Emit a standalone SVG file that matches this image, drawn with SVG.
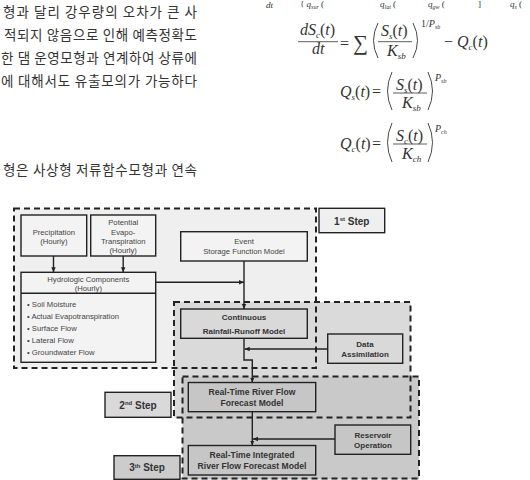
<svg xmlns="http://www.w3.org/2000/svg" width="530" height="480" viewBox="0 0 530 480">
<style>
.kr{font-family:"Noto Sans CJK KR","Noto Sans",sans-serif;font-size:13.5px;fill:#333}
.m{font-family:"Liberation Serif",serif;font-size:16px;fill:#333;font-style:italic}
.mt{font-size:9px}
.mu{font-style:normal}
.sb{font-size:9px}
.sb2{font-size:6px}
.sp{font-size:10px}
.bar{stroke:#333;stroke-width:0.8}
.par{fill:none;stroke:#333;stroke-width:0.9}
.zone{stroke:#222;stroke-width:2;stroke-dasharray:6,4;fill:none}
.box{stroke:#222;stroke-width:1.4}
.b1{fill:#f3f3f3}
.b2{fill:#d9d9d9}
.b3{fill:#c6c6c6}
.t{font-family:"Liberation Sans",Arial,sans-serif;font-size:7.7px;fill:#444;text-anchor:middle}
.tb{font-family:"Liberation Sans",Arial,sans-serif;font-size:8px;font-weight:bold;fill:#333;text-anchor:middle}
.tr{font-size:8.6px}
.ts{font-family:"Liberation Sans",Arial,sans-serif;font-size:10px;font-weight:bold;fill:#333;text-anchor:middle}
.l{font-family:"Liberation Sans",Arial,sans-serif;font-size:7.7px;fill:#444}
.c{stroke:#222;stroke-width:1.4;fill:none;marker-end:url(#ah)}
</style>
<defs>
<marker id="ah" markerWidth="6" markerHeight="6" refX="5" refY="3" orient="auto" markerUnits="userSpaceOnUse">
<path d="M0,0.8 L5,3 L0,5.2 Z" fill="#222"/>
</marker>
</defs>
<rect width="530" height="480" fill="#ffffff"/>

<!-- Korean body text -->
<g id="korean-text">
<text class="kr" x="3" y="17" textLength="194" lengthAdjust="spacing">형과 달리 강우량의 오차가 큰 사</text>
<text class="kr" x="4" y="40" textLength="193" lengthAdjust="spacing">적되지 않음으로 인해 예측정확도</text>
<text class="kr" x="1" y="63" textLength="196" lengthAdjust="spacing">한 댐 운영모형과 연계하여 상류에</text>
<text class="kr" x="1" y="86" textLength="196" lengthAdjust="spacing">에 대해서도 유출모의가 가능하다</text>
<text class="kr" x="3" y="175" textLength="194" lengthAdjust="spacing">형은 사상형 저류함수모형과 연속</text>
</g>

<!-- Equations -->
<g id="equations">
<!-- top line (partly shown in the reference) -->
<text class="m mt" x="266" y="8">dt</text>
<text class="m mt" x="300" y="7"><tspan class="mu">{</tspan> q<tspan class="sb2" dy="2">sur</tspan><tspan class="mu" dy="-2"> (</tspan></text>
<text class="m mt" x="380" y="7">q<tspan class="sb2" dy="2">lat</tspan><tspan class="mu" dy="-2"> (</tspan></text>
<text class="m mt" x="428" y="7">q<tspan class="sb2" dy="2">gw</tspan><tspan class="mu" dy="-2"> (</tspan></text>
<text class="m mt" x="478" y="7"><tspan class="mu">]</tspan></text>
<text class="m mt" x="510" y="7">q<tspan class="sb2" dy="2">s</tspan><tspan class="mu" dy="-2"> (</tspan></text>

<!-- eq 1 -->
<text class="m" x="300" y="35">dS<tspan class="sb" dy="3">c</tspan><tspan class="mu" dy="-3">(</tspan>t<tspan class="mu">)</tspan></text>
<line class="bar" x1="298" y1="41.7" x2="338" y2="41.7"/>
<text class="m" x="312" y="53.5">dt</text>
<text class="m mu" x="340" y="49">=</text>
<text class="m mu" x="353" y="50" style="font-size:21px">∑</text>
<path class="par" d="M378,23 Q369,40.5 378,58"/>
<text class="m" x="381" y="36">S<tspan class="sb" dy="3">s</tspan><tspan class="mu" dy="-3">(</tspan>t<tspan class="mu">)</tspan></text>
<line class="bar" x1="378" y1="41.7" x2="412" y2="41.7"/>
<text class="m" x="387" y="56">K<tspan class="sb" dy="3">sb</tspan></text>
<path class="par" d="M413,23 Q422,40.5 413,58"/>
<text class="m sp" x="421" y="27"><tspan class="mu">1/</tspan>P<tspan class="sb2" dy="2">sb</tspan></text>
<text class="m" x="444" y="47"><tspan class="mu">− </tspan>Q<tspan class="sb" dy="3">c</tspan><tspan class="mu" dy="-3">(</tspan>t<tspan class="mu">)</tspan></text>

<!-- eq 2 -->
<text class="m" x="340" y="97">Q<tspan class="sb" dy="3">s</tspan><tspan class="mu" dy="-3">(</tspan>t<tspan class="mu">)</tspan></text>
<text class="m mu" x="372" y="97">=</text>
<path class="par" d="M392,72 Q383,91 392,110"/>
<text class="m" x="396" y="89.5">S<tspan class="sb" dy="3">s</tspan><tspan class="mu" dy="-3">(</tspan>t<tspan class="mu">)</tspan></text>
<line class="bar" x1="393" y1="93" x2="427" y2="93"/>
<text class="m" x="402" y="108">K<tspan class="sb" dy="3">sb</tspan></text>
<path class="par" d="M428,72 Q437,91 428,110"/>
<text class="m sp" x="435" y="81">P<tspan class="sb2" dy="2">sb</tspan></text>

<!-- eq 3 -->
<text class="m" x="340" y="149">Q<tspan class="sb" dy="3">c</tspan><tspan class="mu" dy="-3">(</tspan>t<tspan class="mu">)</tspan></text>
<text class="m mu" x="372" y="149">=</text>
<path class="par" d="M392,123 Q383,142.5 392,162"/>
<text class="m" x="396" y="140.5">S<tspan class="sb" dy="3">c</tspan><tspan class="mu" dy="-3">(</tspan>t<tspan class="mu">)</tspan></text>
<line class="bar" x1="393" y1="144" x2="427" y2="144"/>
<text class="m" x="402" y="159">K<tspan class="sb" dy="3">ch</tspan></text>
<path class="par" d="M428,123 Q437,142.5 428,162"/>
<text class="m sp" x="435" y="132">P<tspan class="sb2" dy="2">ch</tspan></text>
</g>

<!-- zone fills -->
<g id="zones-fill">
<rect x="14" y="208.5" width="302" height="159.5" fill="#efefef"/>
<rect x="174" y="302" width="236.5" height="115.5" fill="#dadada"/>
<rect x="182.5" y="376.5" width="236.5" height="103" fill="#c9c9c9"/>
</g>
<g id="zones-outline">
<rect class="zone" x="14" y="208.5" width="302" height="159.5"/>
<rect class="zone" x="174" y="302" width="236.5" height="115.5"/>
<rect class="zone" x="182.5" y="376.5" width="236.5" height="102"/>
</g>

<!-- connectors -->
<g id="connectors">
<path class="c" d="M53.5,256 V272.3"/>
<path class="c" d="M123.2,256 V272.3"/>
<path class="c" d="M155.7,282.3 H244"/>
<path class="c" d="M244,261 V309"/>
<path class="c" d="M244,338.3 V360 H252.3 V382.5"/>
<path class="c" d="M327.7,349 H244.7"/>
<path class="c" d="M252.3,411.7 V445.5"/>
<path class="c" d="M335,439 H253"/>
</g>

<!-- nodes -->
<g id="precipitation">
<rect class="box b1" x="21" y="215" width="65.7" height="41"/>
<text class="t" x="53.8" y="234.5">Precipitation</text>
<text class="t" x="53.8" y="244">(Hourly)</text>
</g>
<g id="pet">
<rect class="box b1" x="90.7" y="215" width="65" height="41"/>
<text class="t" x="123.2" y="225">Potential</text>
<text class="t" x="123.2" y="234.5">Evapo-</text>
<text class="t" x="123.2" y="243.8">Transpiration</text>
<text class="t" x="123.2" y="252.8">(Hourly)</text>
</g>
<g id="hydrologic">
<rect class="box b1" x="21" y="272.3" width="134.7" height="90"/>
<line class="box" x1="21" y1="293.3" x2="155.7" y2="293.3"/>
<text class="t" x="88.3" y="281.5">Hydrologic Components</text>
<text class="t" x="88.3" y="291.3">(Hourly)</text>
<text class="l" x="27" y="307">• Soil Moisture</text>
<text class="l" x="27" y="319">• Actual Evapotranspiration</text>
<text class="l" x="27" y="330.8">• Surface Flow</text>
<text class="l" x="27" y="342.8">• Lateral Flow</text>
<text class="l" x="27" y="355">• Groundwater Flow</text>
</g>
<g id="event">
<rect class="box b1" x="180.7" y="231.7" width="126.6" height="29.3"/>
<text class="t" x="244" y="244.4">Event</text>
<text class="t" x="244" y="254.4">Storage Function Model</text>
</g>
<g id="continuous">
<rect class="box b2" x="180.7" y="309" width="126.6" height="29.3"/>
<text class="tb" x="244" y="319.5">Continuous</text>
<text class="tb" x="244" y="333.5">Rainfall-Runoff Model</text>
</g>
<g id="data-assimilation">
<rect class="box b2" x="327.7" y="334" width="75" height="29.3"/>
<text class="tb" x="365" y="346.8">Data</text>
<text class="tb" x="365" y="356.8">Assimilation</text>
</g>
<g id="rt-river">
<rect class="box b3" x="188.3" y="382.5" width="127.4" height="29.2"/>
<text class="tb tr" x="252" y="395.3">Real-Time River Flow</text>
<text class="tb tr" x="252" y="405.7">Forecast Model</text>
</g>
<g id="reservoir">
<rect class="box b3" x="335" y="425" width="75.7" height="29.3"/>
<text class="tb" x="373" y="437.8">Reservoir</text>
<text class="tb" x="373" y="447.8">Operation</text>
</g>
<g id="rt-integrated">
<rect class="box b3" x="188.3" y="445.5" width="127.4" height="29.5"/>
<text class="tb tr" x="252" y="458">Real-Time Integrated</text>
<text class="tb tr" x="252" y="468.7">River Flow Forecast Model</text>
</g>
<g id="step1">
<rect class="box" fill="#efefef" x="319" y="208.3" width="65.7" height="24.4"/>
<text class="ts" x="351.8" y="224.5">1<tspan style="font-size:6px" dy="-3.5">st</tspan><tspan dy="3.5"> Step</tspan></text>
</g>
<g id="step2">
<rect class="box" fill="#d9d9d9" x="105" y="392.3" width="66" height="25"/>
<text class="ts" x="138" y="408.5">2<tspan style="font-size:6px" dy="-3.5">nd</tspan><tspan dy="3.5"> Step</tspan></text>
</g>
<g id="step3">
<rect class="box" fill="#cccccc" x="114" y="455.7" width="66" height="23.6"/>
<text class="ts" x="147" y="471">3<tspan style="font-size:6px" dy="-3.5">th</tspan><tspan dy="3.5"> Step</tspan></text>
</g>
</svg>
